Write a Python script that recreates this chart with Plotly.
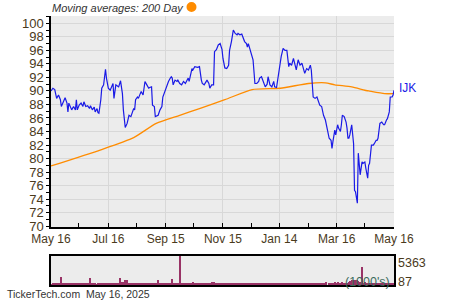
import plotly.graph_objects as go

dates = [
    "2024-05-16","2024-05-18","2024-05-20","2024-05-22","2024-05-24","2024-05-26","2024-05-27","2024-05-29","2024-05-31","2024-06-02",
    "2024-06-03","2024-06-04","2024-06-06","2024-06-07","2024-06-09","2024-06-11","2024-06-12","2024-06-13","2024-06-15","2024-06-17",
    "2024-06-19","2024-06-20","2024-06-22","2024-06-24","2024-06-26","2024-06-27","2024-06-29","2024-07-01","2024-07-02","2024-07-04",
    "2024-07-05","2024-07-06","2024-07-08","2024-07-09","2024-07-11","2024-07-13","2024-07-14","2024-07-16","2024-07-18","2024-07-20",
    "2024-07-21","2024-07-22","2024-07-24","2024-07-26","2024-07-27","2024-07-29","2024-07-31","2024-08-01","2024-08-03","2024-08-05",
    "2024-08-06","2024-08-07","2024-08-09","2024-08-10","2024-08-12","2024-08-13","2024-08-14","2024-08-16","2024-08-17","2024-08-19",
    "2024-08-20","2024-08-22","2024-08-23","2024-08-24","2024-08-26","2024-08-28","2024-08-29","2024-08-31","2024-09-01","2024-09-03",
    "2024-09-04","2024-09-06","2024-09-07","2024-09-09","2024-09-11","2024-09-12","2024-09-14","2024-09-16","2024-09-18","2024-09-20",
    "2024-09-21","2024-09-22","2024-09-23","2024-09-25","2024-09-27","2024-09-28","2024-09-30","2024-10-02","2024-10-04","2024-10-06",
    "2024-10-07","2024-10-09","2024-10-10","2024-10-12","2024-10-13","2024-10-14","2024-10-16","2024-10-19","2024-10-21","2024-10-23",
    "2024-10-24","2024-10-26","2024-10-28","2024-10-29","2024-10-31","2024-11-01","2024-11-03","2024-11-05","2024-11-06","2024-11-08",
    "2024-11-10","2024-11-12","2024-11-14","2024-11-15","2024-11-17","2024-11-19","2024-11-21","2024-11-22","2024-11-24","2024-11-26",
    "2024-11-28","2024-11-30","2024-12-01","2024-12-03","2024-12-05","2024-12-07","2024-12-08","2024-12-10","2024-12-11","2024-12-12",
    "2024-12-14","2024-12-16","2024-12-17","2024-12-19","2024-12-21","2024-12-23","2024-12-24","2024-12-26","2024-12-28","2024-12-30",
    "2025-01-01","2025-01-02","2025-01-04","2025-01-06","2025-01-08","2025-01-09","2025-01-11","2025-01-13","2025-01-15","2025-01-16",
    "2025-01-18","2025-01-20","2025-01-22","2025-01-24","2025-01-25","2025-01-27","2025-01-29","2025-01-31","2025-02-01","2025-02-03",
    "2025-02-05","2025-02-07","2025-02-09","2025-02-10","2025-02-12","2025-02-14","2025-02-16","2025-02-17","2025-02-19","2025-02-21",
    "2025-02-23","2025-02-24","2025-02-26","2025-02-28","2025-03-02","2025-03-04","2025-03-05","2025-03-08","2025-03-10","2025-03-11",
    "2025-03-12","2025-03-14","2025-03-15","2025-03-17","2025-03-18","2025-03-20","2025-03-21","2025-03-22","2025-03-24","2025-03-26",
    "2025-03-27","2025-03-28","2025-03-29","2025-03-30","2025-04-01","2025-04-03","2025-04-04","2025-04-05","2025-04-07","2025-04-08",
    "2025-04-10","2025-04-11","2025-04-12","2025-04-13","2025-04-15","2025-04-16","2025-04-18","2025-04-19","2025-04-20","2025-04-22",
    "2025-04-24","2025-04-25","2025-04-27","2025-04-28","2025-04-29","2025-05-01","2025-05-03","2025-05-05","2025-05-06","2025-05-08",
    "2025-05-09","2025-05-11","2025-05-12","2025-05-14","2025-05-15","2025-05-16",
]

close = [
    90.0, 90.4, 90.2, 88.9, 89.4, 88.7, 87.7, 88.4, 89.0, 88.2,
    86.9, 88.2, 87.4, 87.2, 87.7, 87.2, 88.7, 87.2, 87.9, 88.2,
    87.7, 88.4, 87.7, 87.8, 87.4, 87.8, 87.2, 87.6, 86.9, 87.4,
    86.8, 86.7, 88.7, 90.4, 90.9, 93.2, 91.9, 90.4, 90.1, 90.9,
    91.1, 88.9, 90.9, 90.7, 90.6, 91.5, 89.6, 87.2, 84.6, 85.2,
    85.7, 86.4, 86.2, 86.7, 87.4, 87.2, 88.7, 89.1, 88.9, 89.6,
    89.9, 89.4, 90.9, 91.4, 90.9, 90.4, 90.5, 90.6, 87.9, 87.7,
    86.2, 86.4, 86.4, 87.2, 87.7, 89.1, 89.9, 90.6, 91.4, 91.9,
    92.1, 91.9, 90.9, 91.6, 91.4, 91.6, 91.1, 90.9, 91.4, 91.1,
    91.4, 91.9, 91.4, 92.6, 93.3, 93.1, 93.6, 93.5, 93.6, 91.6,
    91.1, 90.9, 91.4, 91.6, 91.1, 90.4, 90.9, 90.9, 95.8, 96.1,
    96.8, 97.0, 96.1, 94.8, 93.4, 93.3, 93.8, 96.0, 97.3, 99.0,
    98.5, 98.3, 98.5, 98.3, 98.4, 97.8, 97.3, 97.0, 96.5, 97.0,
    96.0, 95.3, 94.6, 91.1, 91.1, 91.4, 91.9, 92.1, 91.4, 90.6,
    91.0, 92.1, 90.9, 90.6, 91.4, 90.6, 90.5, 92.4, 93.9, 95.1,
    96.3, 96.0, 96.0, 93.6, 94.1, 93.8, 94.8, 93.6, 93.1, 94.6,
    93.8, 94.1, 93.1, 92.6, 93.3, 93.1, 93.8, 93.1, 89.1, 88.9,
    89.1, 88.7, 87.9, 87.7, 86.4, 85.7, 85.0, 83.0, 82.7, 81.5,
    82.5, 84.2, 83.5, 85.0, 84.5, 84.0, 85.0, 86.4, 86.2, 85.4,
    84.5, 83.0, 83.0, 83.5, 85.0, 82.2, 75.3, 75.1, 73.4, 80.8,
    77.6, 79.0, 79.5, 79.3, 79.5, 78.6, 77.1, 79.0, 79.3, 82.0,
    82.0, 82.2, 82.7, 82.7, 83.0, 85.2, 85.4, 85.0, 85.0, 85.7,
    85.9, 86.9, 89.1, 89.1, 89.4, 90.1,
]

volume = [
    150, 300, 250, 200, 350, 380, 1470, 250, 300, 200,
    250, 300, 200, 250, 200, 300, 250, 200, 250, 300,
    200, 250, 300, 250, 300, 1280, 350, 250, 200, 150,
    200, 250, 300, 250, 300, 250, 200, 300, 250, 250,
    200, 250, 300, 250, 200, 1280, 500, 640, 1000, 960,
    350, 300, 250, 200, 250, 300, 250, 200, 250, 300,
    250, 200, 300, 250, 300, 250, 200, 250, 300, 250,
    300, 400, 960, 400, 300, 250, 300, 250, 350, 300,
    300, 1150, 300, 250, 300, 350, 5363, 450, 350, 300,
    300, 250, 350, 300, 350, 640, 300, 250, 300, 250,
    300, 250, 300, 250, 300, 400, 500, 300, 640, 350,
    300, 250, 300, 250, 200, 250, 300, 250, 300, 250,
    300, 450, 300, 250, 300, 250, 300, 350, 300, 250,
    300, 250, 350, 300, 250, 300, 350, 300, 450, 400,
    450, 300, 250, 300, 350, 300, 250, 300, 350, 300,
    300, 250, 300, 350, 400, 300, 250, 300, 250, 300,
    250, 300, 250, 300, 250, 300, 250, 300, 350, 300,
    350, 300, 400, 350, 450, 400, 500, 350, 400, 450,
    400, 500, 450, 550, 500, 400, 450, 500, 400, 350,
    400, 450, 500, 800, 960, 800, 900, 1000, 850, 700,
    600, 500, 3250, 450, 500, 400, 450, 400, 350, 400,
    350, 400, 350, 300, 350, 400, 350, 300, 350, 300,
    350, 300, 400, 350, 300, 350,
]

ma_dates = ["2024-05-16","2024-07-08","2024-08-12","2024-09-05","2024-09-30","2024-10-21",
            "2024-11-17","2024-12-16","2025-01-15","2025-02-14","2025-03-04","2025-03-14",
            "2025-04-01","2025-04-15","2025-04-19","2025-05-06","2025-05-16"]
ma_values = [78.9, 81.3, 83.1, 85.2, 86.4, 87.4,
             88.7, 90.2, 90.4, 91.1, 91.2, 90.9,
             90.6, 90.1, 90.0, 89.6, 89.6]

x_tickvals = ["2024-05-16","2024-07-16","2024-09-15","2024-11-15","2025-01-14","2025-03-16","2025-05-16"]
x_ticktext = ["May 16","Jul 16","Sep 15","Nov 15","Jan 14","Mar 16","May 16"]
x_minor = ["2024-06-14","2024-08-15","2024-10-15","2024-12-15","2025-02-14","2025-04-15"]
vol_labels = ["5363", "87"]

TXT = "#4a3a1c"
FONT = "Liberation Sans, Arial, sans-serif"
W, H = 450, 300
L, R = 51, 394
MAIN_T, MAIN_B = 16, 227
VOL_T, VOL_B = 256, 285

fig = go.Figure()
fig.add_trace(go.Scatter(x=ma_dates, y=ma_values, mode="lines",
                         line=dict(color="#ff8c00", width=1.3, shape="spline", smoothing=0.6),
                         hoverinfo="skip", xaxis="x", yaxis="y"))
fig.add_trace(go.Scatter(x=dates, y=close, mode="lines",
                         line=dict(color="#1a1ae6", width=1.2),
                         xaxis="x", yaxis="y"))
fig.add_trace(go.Bar(x=dates, y=volume, marker=dict(color="#993366", line=dict(width=0)),
                     width=1.3 * 86400000, xaxis="x2", yaxis="y2"))

xr = ["2024-05-16", "2025-05-16"]
fig.update_layout(
    width=W, height=H, margin=dict(l=0, r=0, t=0, b=0, pad=0, autoexpand=False),
    paper_bgcolor="white", plot_bgcolor="#ececec",
    showlegend=False, bargap=0,
    font=dict(family=FONT, size=12, color=TXT),
    xaxis=dict(domain=[L / W, R / W], range=xr, type="date", automargin=False,
               tickvals=x_tickvals, ticktext=x_ticktext,
               showgrid=True, gridcolor="#d8d8d8", gridwidth=1,
               ticks="inside", ticklen=4, tickcolor="black",
               showline=True, linecolor="black", linewidth=1.5,
               tickfont=dict(size=12, color=TXT), anchor="y",
               minor=dict(tickvals=x_minor, ticks="inside", ticklen=4, tickcolor="black", showgrid=False),
               zeroline=False, fixedrange=True),
    yaxis=dict(domain=[1 - MAIN_B / H, 1 - MAIN_T / H], range=[69.88, 101.08], automargin=False,
               dtick=2, tick0=70, showgrid=True, gridcolor="#d8d8d8", gridwidth=1,
               ticks="outside", ticklen=3, tickcolor="black",
               minor=dict(dtick=1, tick0=70, ticks="outside", ticklen=3, tickcolor="black", showgrid=False),
               showline=True, linecolor="black", linewidth=1.5,
               tickfont=dict(size=13, color=TXT), anchor="x", zeroline=False),
    xaxis2=dict(domain=[L / W, R / W], range=xr, type="date", anchor="y2", automargin=False,
                showticklabels=False, showgrid=False, ticks="",
                showline=True, linecolor="black", linewidth=1.5, mirror=True, zeroline=False),
    yaxis2=dict(domain=[1 - VOL_B / H, 1 - VOL_T / H], range=[0, 5363], anchor="x2", automargin=False,
                showticklabels=False, showgrid=False, ticks="",
                showline=True, linecolor="black", linewidth=1.5, mirror=True, zeroline=False),
)

ann = [
    dict(text="<i>Moving averages: 200 Day</i>", x=50 / W, y=1 - 8 / H, xanchor="left", yanchor="middle",
         font=dict(size=11, color="#333333")),
    dict(text="IJK", x=397 / W, y=1 - 88 / H, xanchor="left", yanchor="middle",
         font=dict(size=12, color="#1a1ae6")),
    dict(text=vol_labels[0], x=396 / W, y=1 - 263 / H, xanchor="left", yanchor="middle",
         font=dict(size=12.5, color=TXT)),
    dict(text=vol_labels[1], x=396 / W, y=1 - 282 / H, xanchor="left", yanchor="middle",
         font=dict(size=12.5, color=TXT)),
    dict(text="(1000's)", x=392 / W, y=1 - 282 / H, xanchor="right", yanchor="middle",
         font=dict(size=12.5, color="#3b6b5b")),
    dict(text="TickerTech.com  May 16, 2025", x=5 / W, y=1 - 294 / H, xanchor="left", yanchor="middle",
         font=dict(size=10.5, color="#333333")),
]
for a in ann:
    a.update(xref="paper", yref="paper", showarrow=False)
fig.update_layout(annotations=ann)

fig.add_shape(type="circle", xref="paper", yref="paper",
              x0=186.5 / W, x1=196.5 / W, y0=1 - 12 / H, y1=1 - 2 / H,
              fillcolor="#ff8c00", line=dict(width=0))

fig.write_html("out.html")
